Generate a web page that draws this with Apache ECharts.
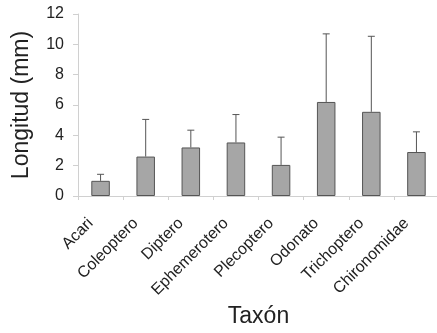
<!DOCTYPE html>
<html>
<head>
<meta charset="utf-8">
<script src="https://cdn.jsdelivr.net/npm/echarts@6/dist/echarts.min.js"></script>
<style>
html,body{margin:0;padding:0;background:#fff;}
#chart{width:437px;height:333px;}
</style>
</head>
<body>
<div id="chart"></div>
<script>
var categories = ['Acari', 'Coleoptero', 'Diptero', 'Ephemerotero', 'Plecoptero', 'Odonato', 'Trichoptero', 'Chironomidae'];
var means = [1.0, 2.6, 3.2, 3.53, 2.05, 6.2, 5.55, 2.9];
var errors = [0.43, 2.45, 1.14, 1.84, 1.83, 4.49, 4.98, 1.33];
var yTicks = { min: 0, max: 12, interval: 2 };

var errData = categories.map(function (c, i) { return [i, means[i], means[i] + errors[i]]; });

var chart = echarts.init(document.getElementById('chart'), null, { renderer: 'canvas' });
var font = 'Liberation Sans, Arial, sans-serif';
chart.setOption({
  animation: false,
  backgroundColor: '#fff',
  grid: { left: 78, right: -2, top: 14, bottom: 137, containLabel: false, outerBoundsMode: 'none' },
  xAxis: {
    type: 'category',
    data: categories,
    name: 'Taxón',
    nameLocation: 'middle',
    nameGap: 108,
    nameTextStyle: { fontFamily: font, fontSize: 23, color: '#222' },
    axisLine: { show: true, lineStyle: { color: '#d0d0d0', width: 1 } },
    axisTick: { show: true, alignWithLabel: false, length: 4, lineStyle: { color: '#d0d0d0' } },
    axisLabel: { rotate: 45, fontFamily: font, fontSize: 16, color: '#222', margin: 15, padding: [0, 14, 0, 0], interval: 0 },
    splitLine: { show: false }
  },
  yAxis: {
    type: 'value',
    min: yTicks.min,
    max: yTicks.max,
    interval: yTicks.interval,
    name: 'Longitud (mm)',
    nameLocation: 'middle',
    nameGap: 45,
    nameTextStyle: { fontFamily: font, fontSize: 23, color: '#222' },
    axisLine: { show: true, lineStyle: { color: '#d0d0d0', width: 1 } },
    axisTick: { show: true, length: 5, lineStyle: { color: '#d0d0d0' } },
    axisLabel: { fontFamily: font, fontSize: 16, color: '#222', margin: 14 },
    splitLine: { show: false }
  },
  series: [
    {
      type: 'bar',
      data: means,
      barWidth: '41%',
      itemStyle: { color: '#a6a6a6', borderColor: '#555', borderWidth: 1 },
      z: 2
    },
    {
      type: 'custom',
      data: errData,
      z: 3,
      renderItem: function (params, api) {
        var x = api.value(0);
        var lo = api.coord([x, api.value(1)]);
        var hi = api.coord([x, api.value(2)]);
        var cap = 3.5;
        var style = { stroke: '#555', lineWidth: 1 };
        return {
          type: 'group',
          children: [
            { type: 'line', shape: { x1: lo[0], y1: lo[1], x2: hi[0], y2: hi[1] }, style: style },
            { type: 'line', shape: { x1: hi[0] - cap, y1: hi[1], x2: hi[0] + cap, y2: hi[1] }, style: style }
          ]
        };
      }
    }
  ]
});
</script>
</body>
</html>
